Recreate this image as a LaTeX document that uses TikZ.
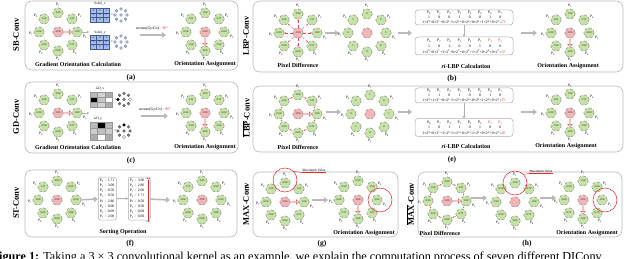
\RequirePackage{fix-cm}
\documentclass[tikz,border=0pt]{standalone}
\usepackage{fontspec}
\setmainfont{Liberation Serif}
\usetikzlibrary{arrows.meta,shapes.arrows,calc}
\definecolor{cgreen}{HTML}{C6E2A8}
\definecolor{cpink}{HTML}{F2B6B8}
\definecolor{cblue}{HTML}{A9BDE6}
\definecolor{cdblue}{HTML}{3F5A99}
\definecolor{cred}{HTML}{E8242A}
\definecolor{cedge}{HTML}{6E6E6E}
\tikzset{
 nb/.style={circle, draw=cedge, densely dashed, line width=0.3pt, fill=cgreen, minimum size=10.5pt, inner sep=0pt, font=\fontsize{2.7}{3}\selectfont},
 ctr/.style={nb, fill=cpink},
 plab/.style={font=\fontsize{3.6}{4}\selectfont, inner sep=0pt},
 panel/.style={draw=gray!55, line width=0.6pt, rounded corners=7pt},
 side/.style={rotate=90, font=\fontsize{8.5}{9}\selectfont\bfseries, inner sep=0pt},
 ttl/.style={font=\fontsize{6}{7}\selectfont\bfseries, inner sep=0pt},
 sub/.style={font=\fontsize{7.5}{8}\selectfont\bfseries, inner sep=0pt},
 garrow/.style={draw=gray!55, line width=1.6pt, -{Triangle[length=4pt,width=5.5pt]}},
 tarrow/.style={draw=gray!60, line width=0.6pt, -{Triangle[length=2pt,width=2.5pt]}},
 harrow/.style={single arrow, draw=cred!80, fill=white, line width=0.35pt, minimum height=8pt, minimum width=4.5pt, single arrow head extend=1.2pt, inner sep=0pt},
 rdash/.style={draw=cred!85, densely dashed, line width=0.35pt, -{Stealth[length=1.6pt,width=1.6pt]}},
 cell/.style={rectangle, draw=cdblue, line width=0.3pt, fill=cblue, inner sep=0pt, font=\fontsize{2.8}{3}\selectfont},
 gcell/.style={rectangle, draw=gray!80, line width=0.2pt, inner sep=0pt},
 tiny/.style={font=\fontsize{3.8}{4}\selectfont, inner sep=0pt},
 form/.style={font=\fontsize{3.9}{4}\selectfont\itshape, inner sep=0pt},
 lbox/.style={draw=gray!65, line width=0.5pt, rounded corners=3pt, inner sep=0pt},
 sbox/.style={draw=gray!65, line width=0.5pt, rounded corners=2.5pt, align=left, inner sep=1.6pt, font=\fontsize{3.7}{5.2}\selectfont},
 maxc/.style={circle, draw=cred, line width=0.5pt, minimum size=24pt, inner sep=0pt},
 maxl/.style={font=\fontsize{3.4}{4}\selectfont, inner sep=0.6pt},
}
\def\kdx{{-14,0,14,19,14,0,-14,-19}}
\def\kdy{{-13,-19,-13,0,13,19,13,0}}
\def\klx{{-8,0,8,8,3,0,-3,-8}}
\def\kly{{-3,-8,-3,5,8,7.5,8,2}}
\newcommand\kring[4]{%
 \node[ctr] (#1-c) at #2 {#3};
 \foreach \k/\v/\p in {#4}{%
   \pgfmathsetmacro\dx{\kdx[\k]}%
   \pgfmathsetmacro\dy{\kdy[\k]}%
   \pgfmathsetmacro\lx{\dx+\klx[\k]}%
   \pgfmathsetmacro\ly{\dy+\kly[\k]}%
   \node[nb] (#1-\k) at ($#2+(\dx,\dy)$) {\v};
   \node[plab] (#1-p\k) at ($#2+(\lx,\ly)$) {P\textsubscript{\p}};
 }}
\newcommand\dotcl[3]{%
 \node[circle, draw=#3!60!black, fill=#3, minimum size=3pt, inner sep=0pt, line width=0.2pt] (#1-c) at #2 {};
 \foreach \k in {0,...,7}{%
   \pgfmathsetmacro\dx{0.32*\kdx[\k]}%
   \pgfmathsetmacro\dy{0.32*\kdy[\k]}%
   \node[circle, draw=#3!60!black, fill=#3, minimum size=3pt, inner sep=0pt, line width=0.2pt] (#1-\k) at ($#2+(\dx,\dy)$) {};
 }}
\begin{document}
\begin{tikzpicture}[x=1pt,y=-1pt]
\useasboundingbox (0,0) rectangle (640,259);
\clip (0,0) rectangle (640,259);
% ---------------- panels ----------------
\draw[panel] (25,1) rectangle (238,70);
\draw[panel] (253,1) rectangle (623,72);
\draw[panel] (25,82) rectangle (238,153);
\draw[panel] (253,86) rectangle (623,152);
\draw[panel] (25,170) rectangle (237,237);
\draw[panel] (253,172) rectangle (398,237);
\draw[panel] (418,172) rectangle (622,237);
\node[side] (la) at (16,35) {SB-Conv};
\node[side] (lb) at (246,36) {LBP-Conv};
\node[side] (lc) at (16,117) {GD-Conv};
\node[side] (le) at (246,118) {$\overline{\mbox{LBP}}$-Conv};
\node[side] (lf) at (16,203) {ST-Conv};
\node[side] (lg) at (246,204) {MAX-Conv};
\node[side] (lh) at (410,204) {$\overline{\mbox{MAX}}$-Conv};
\node[sub] (sa) at (131,78) {(a)};
\node[sub] (sb) at (452,79) {(b)};
\node[sub] (sc) at (131,161) {(c)};
\node[sub] (se) at (452,160) {(e)};
\node[sub] (sf) at (130,244) {(f)};
\node[sub] (sg) at (322,244) {(g)};
\node[sub] (sh) at (527,244) {(h)};
% ---------------- (a) SB-Conv ----------------
\kring{a1}{(58,32)}{2.00}{0/1.50/0,1/3.00/1,2/1.21/2,3/1.00/3,4/2.71/4,5/0.00/5,6/2.50/6,7/0.50/7}
\node[harrow] (a1-h) at ($(a1-c)!0.5!(a1-3)$) {};
\node[font=\fontsize{3.4}{4}\selectfont, inner sep=0pt] (sxl) at (100,4) {Sobel\_x};
\node[font=\fontsize{3.4}{4}\selectfont, inner sep=0pt] (syl) at (100,32.5) {Sobel\_y};
\foreach \r/\c/\t in {0/0/-1,0/1/0,0/2/1,1/0/-2,1/1/0,1/2/2,2/0/-1,2/1/0,2/2/1}
  \node[cell, minimum width=6.5pt, minimum height=4.7pt] (sx-\r\c) at (90+\c*6.5+3.25, 8+\r*4.7+2.35) {\t};
\foreach \r/\c/\t in {0/0/-1,0/1/-2,0/2/-1,1/0/0,1/1/0,1/2/0,2/0/1,2/1/2,2/2/1}
  \node[cell, minimum width=6.5pt, minimum height=4.7pt] (sy-\r\c) at (90+\c*6.5+3.25, 35+\r*4.7+2.35) {\t};
\draw[cdblue, line width=0.6pt] (sx-00.north west) rectangle (sx-22.south east);
\draw[cdblue, line width=0.6pt] (sy-00.north west) rectangle (sy-22.south east);
\node[tiny] (eqa1) at (112,15) {=};
\node[tiny] (eqa2) at (112,42) {=};
\dotcl{dxa}{(121,15)}{cblue}
\dotcl{dya}{(121,42)}{cblue}
\coordinate (a-in) at (89,32);
\draw[tarrow] (a1-3) -- (a-in);
\node[form] (fa) at (152,29) {arctan(Gy/Gx) \textcolor{cred}{- 90°}};
\coordinate (fa-s) at (140,35);
\coordinate (fa-e) at (166,35);
\draw[garrow] (fa-s) -- (fa-e);
\kring{a2}{(205,32)}{2.00}{0/1.21/2,1/1.00/3,2/2.71/4,3/0.00/5,4/2.50/6,5/3.00/1,6/1.50/0,7/0.50/7}
\node[harrow, shape border rotate=270] (a2-h) at ($(a2-c)!0.5!(a2-5)$) {};
\node[ttl] (ta1) at (78,64) {Gradient Orientation Calculation};
\node[ttl] (ta2) at (205,64) {Orientation Assignment};
% ---------------- (c) GD-Conv ----------------
\kring{c1}{(58,113)}{2.00}{0/1.50/0,1/3.00/1,2/1.21/2,3/1.00/3,4/2.71/4,5/0.00/5,6/2.50/6,7/0.50/7}
\node[harrow] (c1-h) at ($(c1-c)!0.5!(c1-3)$) {};
\node[font=\fontsize{3.4}{4}\selectfont, inner sep=0pt] (gxl) at (100,89) {GD\_x};
\node[font=\fontsize{3.4}{4}\selectfont, inner sep=0pt] (gyl) at (98,118.5) {GD\_y};
\foreach \r/\c/\f in {0/0/gray!55,0/1/gray!35,0/2/gray!65,1/0/black,1/1/gray!45,1/2/white,2/0/gray!55,2/1/gray!35,2/2/gray!65}
  \node[gcell, fill=\f, minimum width=7.3pt, minimum height=5pt] (gx-\r\c) at (90+\c*7.3+3.65, 92+\r*5+2.5) {};
\foreach \r/\c/\f in {0/0/gray!55,0/1/black,0/2/gray!55,1/0/gray!40,1/1/gray!50,1/2/gray!40,2/0/gray!65,2/1/white,2/2/gray!65}
  \node[gcell, fill=\f, minimum width=7.3pt, minimum height=6pt] (gy-\r\c) at (90+\c*7.3+3.65, 122+\r*6+3) {};
\node[tiny] (eqc1) at (115.5,99.5) {=};
\node[tiny] (eqc2) at (115.5,131) {=};
\dotcl{dxc}{(124,99.5)}{gray}
\dotcl{dyc}{(124,131)}{gray}
\node[circle, fill=black, minimum size=3pt, inner sep=0pt] (dxc-b) at (dxc-7) {};
\node[circle, draw=gray, fill=white, minimum size=3pt, inner sep=0pt, line width=0.2pt] (dxc-w) at (dxc-3) {};
\node[circle, fill=black, minimum size=3pt, inner sep=0pt] (dyc-b) at (dyc-1) {};
\node[circle, draw=gray, fill=white, minimum size=3pt, inner sep=0pt, line width=0.2pt] (dyc-w) at (dyc-5) {};
\coordinate (c-in) at (89,113);
\draw[tarrow] (c1-3) -- (c-in);
\node[form] (fc) at (155,110) {arctan(Gy/Gx) \textcolor{cred}{- 90°}};
\coordinate (fc-s) at (141,116);
\coordinate (fc-e) at (168,116);
\draw[garrow] (fc-s) -- (fc-e);
\kring{c2}{(205,113)}{2.00}{0/1.21/2,1/1.00/3,2/2.71/4,3/0.00/5,4/2.50/6,5/3.00/1,6/1.50/0,7/0.50/7}
\node[harrow, shape border rotate=270] (c2-h) at ($(c2-c)!0.5!(c2-5)$) {};
\node[ttl] (tc1) at (78,147) {Gradient Orientation Calculation};
\node[ttl] (tc2) at (205,147) {Orientation Assignment};
% ---------------- (b) LBP-Conv ----------------
\kring{b1}{(298,33)}{2.00}{0/1.50/0,1/3.00/1,2/1.21/2,3/1.00/3,4/2.71/4,5/0.00/5,6/2.50/6,7/0.50/7}
\foreach \k in {0,...,7} \draw[rdash] (b1-c) -- (b1-\k);
\draw[garrow] (325,33) -- (339,33);
\kring{b2}{(367,33)}{}{0/1/0,1/0/1,2/0/2,3/1/3,4/0/4,5/0/5,6/1/6,7/0/7}
\draw[garrow] (398,33) -- (412,33);
\node[lbox, minimum width=98pt, minimum height=15pt] (bt) at (464,17.5) {};
\node[lbox, minimum width=98pt, minimum height=18pt] (bb) at (464,46) {};
\foreach \i/\d in {0/1,1/0,2/0,3/1,4/0,5/0,6/1,7/0}{
  \node[tiny] (btp\i) at (429+\i*10.2,13) {P\textsubscript{\i}};
  \node[tiny] (btd\i) at (429+\i*10.2,17.5) {\d};
}
\node[tiny] (btf) at (464,22) {1×2\textsuperscript{0}+0×2\textsuperscript{1}+0×2\textsuperscript{2}+1×2\textsuperscript{3}+0×2\textsuperscript{4}+0×2\textsuperscript{5}+1×2\textsuperscript{6}+0×2\textsuperscript{7}=\textcolor{cred}{73}};
\foreach \i/\p/\d in {0/6/1,1/7/0,2/0/1,3/1/0,4/2/0,5/3/1}{
  \node[tiny] (bbp\i) at (429+\i*10.2,41) {P\textsubscript{\p}};
  \node[tiny] (bbd\i) at (429+\i*10.2,46) {\d};
}
\foreach \i/\p/\d in {6/4/0,7/5/0}{
  \node[tiny, text=cred] (bbp\i) at (429+\i*10.2,41) {P\textsubscript{\p}};
  \node[tiny] (bbd\i) at (429+\i*10.2,46) {\d};
}
\node[tiny] (bbf) at (464,51.5) {1×2\textsuperscript{0}+0×2\textsuperscript{1}+1×2\textsuperscript{2}+0×2\textsuperscript{3}+0×2\textsuperscript{4}+1×2\textsuperscript{5}+0×2\textsuperscript{6}+0×2\textsuperscript{7}=\textcolor{cred}{37}};
\draw[draw=gray!60, line width=0.9pt, -{Triangle[length=2.2pt,width=3pt]}] (bt.south) -- (bb.north);
\draw[garrow] (521,33) -- (537,33);
\kring{b3}{(570,33)}{2.00}{0/1.21/2,1/1.00/3,2/2.71/4,3/0.00/5,4/2.50/6,5/3.00/1,6/1.50/0,7/0.50/7}
\node[harrow, shape border rotate=270] (b3-h) at ($(b3-c)!0.5!(b3-5)$) {};
\node[ttl] (tb1) at (298,65) {Pixel Difference};
\node[ttl] (tb2) at (466,66) {\textit{ri}-LBP Calculation};
\node[ttl] (tb3) at (568,66) {Orientation Assignment};
% ---------------- (e) LBP-bar-Conv ----------------
\kring{e1}{(298,114)}{2.00}{0/1.50/0,1/3.00/1,2/1.21/2,3/1.00/3,4/2.71/4,5/0.00/5,6/2.50/6,7/0.50/7}
\foreach \k in {0,...,7}{
  \pgfmathtruncatemacro\nx{mod(\k+1,8)}
  \draw[rdash, shorten <=0.5pt, shorten >=0.5pt] (e1-\k) -- (e1-\nx);
}
\node[harrow] (e1-h) at ($(e1-c)!0.5!(e1-3)$) {};
\draw[garrow] (326,112) -- (341,112);
\kring{e2}{(370,114)}{}{0/1/0,1/1/1,2/0/2,3/1/3,4/0/4,5/0/5,6/1/6,7/0/7}
\draw[garrow] (398,112) -- (412,112);
\node[lbox, minimum width=98pt, minimum height=15pt] (et) at (464,95.5) {};
\node[lbox, minimum width=98pt, minimum height=18pt] (eb) at (464,127.5) {};
\foreach \i/\d in {0/1,1/1,2/0,3/1,4/0,5/0,6/1,7/0}{
  \node[tiny] (etp\i) at (429+\i*10.2,91) {P\textsubscript{\i}};
  \node[tiny] (etd\i) at (429+\i*10.2,95.5) {\d};
}
\node[tiny] (etf) at (464,100) {1×2\textsuperscript{0}+1×2\textsuperscript{1}+0×2\textsuperscript{2}+1×2\textsuperscript{3}+0×2\textsuperscript{4}+0×2\textsuperscript{5}+1×2\textsuperscript{6}+0×2\textsuperscript{7}=\textcolor{cred}{75}};
\foreach \i/\p/\d in {0/6/1,1/7/0,2/0/1,3/1/1,4/2/0,5/3/1}{
  \node[tiny] (ebp\i) at (429+\i*10.2,122.5) {P\textsubscript{\p}};
  \node[tiny] (ebd\i) at (429+\i*10.2,127.5) {\d};
}
\foreach \i/\p/\d in {6/4/0,7/5/0}{
  \node[tiny, text=cred] (ebp\i) at (429+\i*10.2,122.5) {P\textsubscript{\p}};
  \node[tiny] (ebd\i) at (429+\i*10.2,127.5) {\d};
}
\node[tiny] (ebf) at (464,133) {1×2\textsuperscript{0}+0×2\textsuperscript{1}+1×2\textsuperscript{2}+1×2\textsuperscript{3}+0×2\textsuperscript{4}+1×2\textsuperscript{5}+0×2\textsuperscript{6}+0×2\textsuperscript{7}=\textcolor{cred}{45}};
\draw[draw=gray!60, line width=0.9pt, -{Triangle[length=2.2pt,width=3pt]}] (et.south) -- (eb.north);
\draw[garrow] (521,112) -- (537,112);
\kring{e3}{(570,113)}{2.00}{0/1.21/2,1/1.00/3,2/2.71/4,3/0.00/5,4/2.50/6,5/3.00/1,6/1.50/0,7/0.50/7}
\node[harrow, shape border rotate=270] (e3-h) at ($(e3-c)!0.5!(e3-5)$) {};
\node[ttl] (te1) at (298,147) {Pixel Difference};
\node[ttl] (te2) at (466,146) {\textit{ri}-LBP Calculation};
\node[ttl] (te3) at (566,146) {Orientation Assignment};
% ---------------- (f) ST-Conv ----------------
\kring{f1}{(57,200)}{2.00}{0/1.71/0,1/3.00/1,2/0.50/2,3/0.50/3,4/2.86/4,5/0.00/5,6/0.09/6,7/2.00/7}
\node[sbox, anchor=north west, text width=15pt] (s1) at (98,177) {P\textsubscript{0} : 1.71\\P\textsubscript{1} : 3.00\\P\textsubscript{2} : 0.50\\P\textsubscript{3} : 0.50\\P\textsubscript{4} : 2.86\\P\textsubscript{5} : 0.00\\P\textsubscript{6} : 0.09\\P\textsubscript{7} : 2.00};
\node[sbox, anchor=north west, text width=19pt] (s2) at (128,177) {P\textsubscript{1} : 3.00\\P\textsubscript{4} : 2.86\\P\textsubscript{7} : 2.00\\P\textsubscript{0} : 1.71\\P\textsubscript{2} : 0.50\\P\textsubscript{3} : 0.50\\P\textsubscript{6} : 0.09\\P\textsubscript{5} : 0.00};
\node[font=\fontsize{2.4}{3}\selectfont, inner sep=0pt] (smax) at (148.5,178.5) {max};
\node[font=\fontsize{2.4}{3}\selectfont, inner sep=0pt] (smin) at (148.5,221.5) {min};
\draw[cred, line width=0.4pt, -{Stealth[length=2pt,width=2pt]}] (smin.north) -- (smax.south);
\draw[garrow] (f1-3) -- (s1);
\draw[draw=gray!60, line width=0.9pt, -{Triangle[length=2.2pt,width=3pt]}] (s1) -- (s2);
\draw[garrow] (s2) -- (170,200);
\kring{f2}{(202,200)}{2.00}{0/1.71/0,1/3.00/1,2/0.50/2,3/0.50/3,4/2.86/4,5/0.00/5,6/0.09/6,7/2.00/7}
\node[ttl] (tf1) at (123,232) {Sorting Operation};
% ---------------- (g) MAX-Conv ----------------
\kring{g1}{(285,202)}{2.00}{0/1.50/0,1/3.00/1,2/1.21/2,3/1.00/3,4/2.71/4,5/0.00/5,6/2.50/6,7/0.50/7}
\node[harrow] (g1-h) at ($(g1-c)!0.5!(g1-3)$) {};
\node[maxc] (g1-m) at (285,180) {};
\node[maxl] (gml) at (314,170.5) {Maximum Value};
\draw[cred, line width=0.7pt] (gml.south west) -- (gml.south east);
\draw[cred, line width=0.4pt] (g1-m.north east) -- (gml.south west);
\draw[garrow] (312,200) -- (328,200);
\kring{g2}{(358,200)}{2.00}{0/2.50/6,1/0.50/7,2/1.50/0,3/3.00/1,4/1.21/2,5/1.00/3,6/2.71/4,7/0.00/5}
\node[harrow, shape border rotate=270] (g2-h) at ($(g2-c)!0.5!(g2-5)$) {};
\node[maxc] (g2-m) at ($(g2-3)+(3,0)$) {};
\node[ttl] (tg1) at (364,233) {Orientation Assignment};
% ---------------- (h) MAX-bar-Conv ----------------
\kring{h1}{(447,201)}{2.00}{0/1.50/0,1/3.00/1,2/1.21/2,3/1.00/3,4/2.71/4,5/0.00/5,6/2.50/6,7/0.50/7}
\foreach \k in {0,...,7}{
  \pgfmathtruncatemacro\nx{mod(\k+1,8)}
  \draw[rdash, shorten <=0.5pt, shorten >=0.5pt] (h1-\k) -- (h1-\nx);
}
\node[harrow] (h1-h) at ($(h1-c)!0.5!(h1-3)$) {};
\draw[garrow] (471,198) -- (487,198);
\kring{h2}{(515,202)}{}{0/0.50/0,1/1.00/1,2/0.79/2,3/1.00/3,4/0.71/4,5/2.00/5,6/0.50/6,7/1.50/7}
\node[maxc] (h2-m) at (h2-1) {};
\node[maxl] (hml) at (541,171.5) {Maximum Value};
\draw[cred, line width=0.7pt] (hml.south west) -- (hml.south east);
\draw[cred, line width=0.4pt] (h2-m.north east) -- (hml.south west);
\draw[garrow] (540,198) -- (556,198);
\kring{h3}{(583,200)}{2.00}{0/0.50/6,1/1.50/7,2/0.50/0,3/1.00/1,4/0.79/2,5/1.00/3,6/0.71/4,7/2.00/5}
\node[harrow, shape border rotate=270] (h3-h) at ($(h3-c)!0.5!(h3-5)$) {};
\node[maxc] (h3-m) at ($(h3-3)+(3,0)$) {};
\node[ttl] (th1) at (440,233) {Pixel Difference};
\node[ttl] (th2) at (587,233) {Orientation Assignment};
% ---------------- caption ----------------
\node[anchor=base west, font=\fontsize{12.2}{13}\selectfont, inner sep=0pt] (cap) at (-8.5,260.5) {\textbf{Figure 1:} Taking a 3 × 3 convolutional kernel as an example, we explain the computation process of seven different DIConv};
\end{tikzpicture}
\end{document}
